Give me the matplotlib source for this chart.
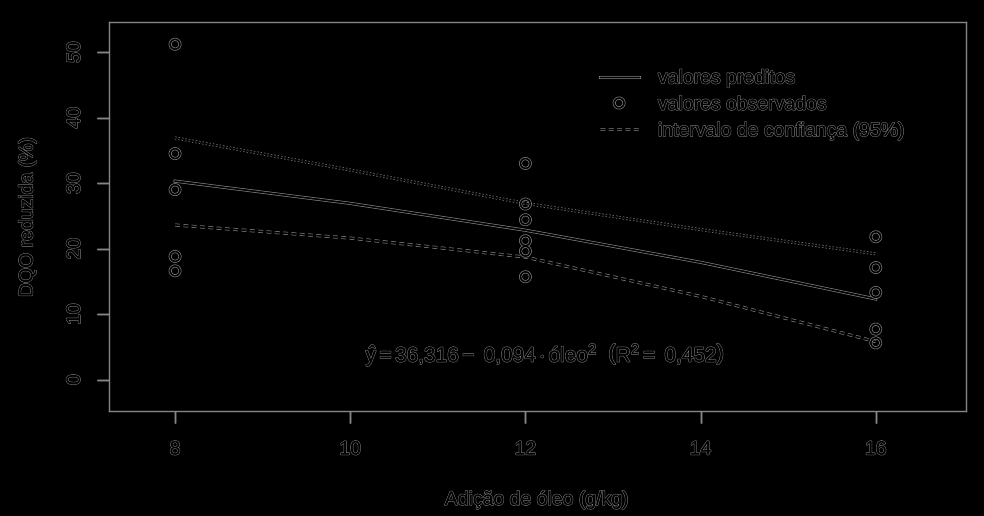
import matplotlib
matplotlib.use("Agg")
import matplotlib.pyplot as plt
import matplotlib.patheffects as pe

#
# data
#
oleo_obs = [8, 8, 8, 8, 8, 12, 12, 12, 12, 12, 12, 16, 16, 16, 16, 16]
dqo_obs = [51.2, 34.5, 29.0, 18.8, 16.6,
           33.0, 26.8, 24.4, 21.2, 19.6, 15.7,
           21.8, 17.1, 13.3, 7.7, 5.6]

oleo_grid = [8, 10, 12, 14, 16]
dqo_pred = [30.3, 26.9, 22.8, 17.9, 12.3]
ic_sup = [36.9, 32.0, 26.9, 22.9, 19.2]
ic_inf = [23.6, 21.6, 18.7, 12.7, 5.8]

x_ticks = [8, 10, 12, 14, 16]
y_ticks = [0, 10, 20, 30, 40, 50]
legend_labels = ["valores preditos", "valores observados", "intervalo de confiança (95%)"]

#
# style: black ink on black background -> only the grey edges show
#
edge = "#858585"
txt_fx = [pe.withStroke(linewidth=0.9, foreground=edge), pe.Normal()]
line_fx = [pe.withStroke(linewidth=2.2, foreground=edge), pe.Normal()]

plt.rcParams["font.family"] = ["Liberation Sans", "DejaVu Sans"]
plt.rcParams["mathtext.fontset"] = "custom"
plt.rcParams["mathtext.rm"] = "Liberation Sans"
plt.rcParams["mathtext.it"] = "Liberation Sans:italic"
plt.rcParams["path.effects"] = txt_fx
plt.rcParams["text.color"] = "black"
plt.rcParams["font.size"] = 14

fig = plt.figure(figsize=(9.84, 5.16), dpi=100, facecolor="black")
fig.patch.set_path_effects([])
ax = fig.add_axes([0.1108, 0.2035, 0.8709, 0.7539])
ax.set_facecolor("black")
ax.patch.set_path_effects([])

l_pred, = ax.plot(oleo_grid, dqo_pred, color="black", lw=1.0, path_effects=line_fx)
ax.plot(oleo_grid, ic_sup, color="black", lw=1.0, linestyle=(0, (1, 1.5)), path_effects=line_fx)
l_ic, = ax.plot(oleo_grid, ic_inf, color="black", lw=1.0, linestyle=(0, (3.5, 2.5)), path_effects=line_fx)
l_obs, = ax.plot(oleo_obs, dqo_obs, linestyle="none", marker="o", markersize=7,
                 markerfacecolor="none", markeredgecolor="black", markeredgewidth=1.0,
                 path_effects=line_fx)

ax.set_xlim(7.246, 17.03)
ax.set_ylim(-4.8, 54.6)
ax.set_xticks(x_ticks)
ax.set_yticks(y_ticks)
ax.set_yticklabels([str(v) for v in y_ticks], rotation=90, va="center")
ax.tick_params(colors=edge, length=9, width=1, labelcolor="black", labelsize=14)
ax.tick_params(axis="x", pad=13)
ax.tick_params(axis="y", pad=9)

for s in ax.spines.values():
    s.set_color(edge)
    s.set_linewidth(1.0)
    s.set_path_effects([])

ax.set_xlabel("Adição de óleo (g/kg)", fontsize=14, labelpad=24)
ax.set_ylabel("DQO reduzida (%)", fontsize=14, labelpad=22)

ax.text(12.23, 3.8,
        r"$\hat{\mathrm{y}} = 36{,}316 -\ 0{,}094 \cdot \mathrm{óleo}^2\ \ \left(\mathrm{R}^2 =\ 0{,}452\right)$",
        ha="center", va="center", fontsize=15)

leg = ax.legend([l_pred, l_obs, l_ic], legend_labels, loc="upper left",
                bbox_to_anchor=(0.5725, 0.877), frameon=False, fontsize=14,
                handlelength=2.0, handletextpad=1.0, labelspacing=0.45,
                borderpad=0, borderaxespad=0)
for t in leg.get_texts():
    t.set_path_effects(txt_fx)

fig.savefig("out.png", dpi=100, facecolor="black")
